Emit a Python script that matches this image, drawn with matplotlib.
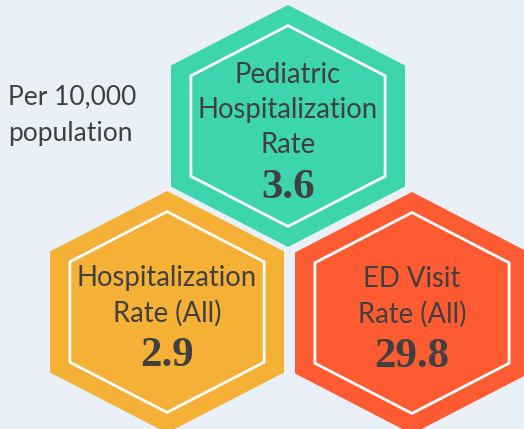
import numpy as np
import matplotlib.pyplot as plt
from matplotlib.patches import Polygon

# Data
labels = ["Pediatric\nHospitalization\nRate", "Hospitalization\nRate (All)", "ED Visit\nRate (All)"]
values = [3.6, 2.9, 29.8]
colors = ["#3DD5AD", "#F4B135", "#FF5B33"]
note = ["Per 10,000", "population"]

# Layout (pixel coordinates, y down)
centers = [(288, 126), (167, 312), (412, 313)]
half_w, half_h = 117, 121
inner = 0.83
txt = "#404040"


def hexagon(cx, cy, s):
    w, h = half_w * s, half_h * s
    return np.array([(cx, cy - h), (cx + w, cy - h / 2), (cx + w, cy + h / 2),
                     (cx, cy + h), (cx - w, cy + h / 2), (cx - w, cy - h / 2)])


fig = plt.figure(figsize=(5.24, 4.29), dpi=100)
fig.patch.set_facecolor("#E9F0F8")
ax = fig.add_axes([0, 0, 1, 1])
ax.set_xlim(0, 524)
ax.set_ylim(429, 0)
ax.axis("off")

for (cx, cy), lab, val, col in zip(centers, labels, values, colors):
    ax.add_patch(Polygon(hexagon(cx, cy, 1.0), closed=True, facecolor=col, edgecolor="none"))
    ax.add_patch(Polygon(hexagon(cx, cy, inner), closed=True, facecolor="none",
                         edgecolor="white", linewidth=2))
    lines = lab.split("\n")
    n = len(lines)
    step = 35
    value_y = cy + 44 if n == 2 else cy + 62
    first_y = value_y - 43 - step * (n - 1)
    for i, line in enumerate(lines):
        ax.text(cx, first_y + i * step, line, ha="center", va="center",
                fontsize=19.8, color=txt, family="Lato")
    ax.text(cx, value_y, f"{val}", ha="center", va="center", fontsize=31,
            fontweight="bold", color=txt, family="Liberation Serif")

for i, line in enumerate(note):
    ax.text(8, 97 + i * 36, line, ha="left", va="center", fontsize=19, color=txt,
            family="Lato")

fig.savefig("out.png", dpi=100, facecolor=fig.get_facecolor())
